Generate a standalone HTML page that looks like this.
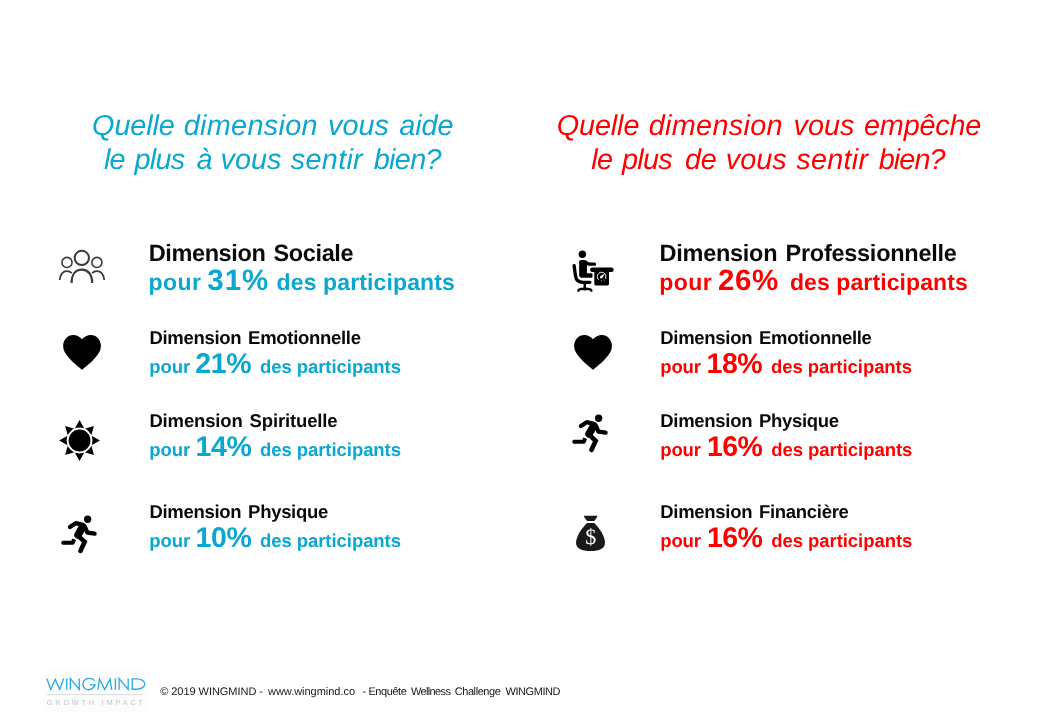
<!DOCTYPE html>
<html lang="fr">
<head>
<meta charset="utf-8">
<title>WINGMIND - Enquête Wellness Challenge</title>
<style>
html,body{margin:0;padding:0;background:#ffffff;}
body{width:1040px;height:720px;position:relative;overflow:hidden;font-family:"Liberation Sans",sans-serif;}
.t{position:absolute;white-space:pre;line-height:1;font-family:"Liberation Sans",sans-serif;font-weight:700;text-rendering:geometricPrecision;}
svg.ic{position:absolute;left:0;top:0;}
#txt{position:absolute;left:0;top:0;width:1040px;height:720px;will-change:transform;}
</style>
</head>
<body>
<svg class="ic" width="1040" height="720" viewBox="0 0 1040 720">
<rect x="44" y="670" width="104" height="42" fill="#fcfcfd"/>
<path d="M46.88 678.46L50.68 689.46L55.23 679.31L59.78 689.46L63.59 678.46M66.76 678.46L66.76 689.67M70.36 689.78L70.36 678.67L79.24 689.46L79.24 678.46M94.47 680.58C91.83 677.62 86.54 677.62 84.21 680.58C82.10 683.54 82.73 686.92 85.27 688.72C88.13 690.63 92.88 690.10 95.21 684.81L89.71 684.81M97.96 689.78L99.44 678.88L104.73 689.46L110.13 678.88L111.61 689.78M115.41 678.46L115.41 689.67M119.12 689.78L119.12 678.67L128.21 689.46L128.21 678.46M132.23 678.88L132.23 689.25L136.78 689.25C147.36 689.25 147.36 678.88 136.78 678.88Z" fill="none" stroke="#29abe2" stroke-width="1.32" stroke-linejoin="miter" stroke-miterlimit="8"/>
<path d="M47 694.6H143.2" stroke="#cdd3d6" stroke-width="0.8" fill="none"/>
<g fill="none" stroke="#3a3a3a" stroke-linecap="butt">
<circle cx="81.8" cy="257.9" r="7.15" stroke-width="2.0"/>
<circle cx="67.0" cy="262.4" r="5.05" stroke-width="1.6"/>
<circle cx="96.9" cy="262.4" r="5.05" stroke-width="1.6"/>
<path d="M71.6 283 C71.6 274 76 269.6 81.8 269.6 C87.6 269.6 92.2 274 92.2 283" stroke-width="2.2"/>
<path d="M59.7 280 C60.3 274.5 63 271.1 67 271.1 C69 271.1 70.6 271.9 71.8 273.1" stroke-width="1.8"/>
<path d="M104.2 280 C103.6 274.5 100.9 271.1 96.9 271.1 C94.9 271.1 93.3 271.9 92.1 273.1" stroke-width="1.8"/>
</g>
<path fill="#000" d="M81.98 369.76C79.36 367.62 72.56 362.47 68.67 357.61C65.46 353.72 63.13 350.52 63.13 346.04C63.13 339.92 67.70 335.06 73.24 335.06C76.73 335.06 79.84 336.72 82.03 339.14C84.22 336.72 87.33 335.06 90.83 335.06C96.37 335.06 100.93 339.92 100.93 346.04C100.93 350.52 98.60 353.72 95.39 357.61C91.51 362.47 84.70 367.62 82.08 369.76Z"/>
<path fill="#000" d="M592.98 369.76C590.36 367.62 583.56 362.47 579.67 357.61C576.46 353.72 574.13 350.52 574.13 346.04C574.13 339.92 578.70 335.06 584.24 335.06C587.73 335.06 590.84 336.72 593.03 339.14C595.22 336.72 598.33 335.06 601.83 335.06C607.37 335.06 611.93 339.92 611.93 346.04C611.93 350.52 609.60 353.72 606.39 357.61C602.51 362.47 595.70 367.62 593.08 369.76Z"/>
<path fill="#000" d="M79.55 420.10L84.25 428.50L74.85 428.50ZM93.97 426.08L91.36 435.34L84.71 428.69ZM99.95 440.50L91.55 445.20L91.55 435.80ZM93.97 454.92L84.71 452.31L91.36 445.66ZM79.55 460.90L74.85 452.50L84.25 452.50ZM65.13 454.92L67.74 445.66L74.39 452.31ZM59.15 440.50L67.55 435.80L67.55 445.20ZM65.13 426.08L74.39 428.69L67.74 435.34Z"/>
<circle cx="79.55" cy="440.5" r="12.9" fill="#fff"/>
<circle cx="79.55" cy="440.5" r="10.9" fill="#000"/>
<g fill="none" stroke="#000" stroke-linecap="round" stroke-linejoin="round">
<circle cx="87.62" cy="519.24" r="3.65" fill="#000" stroke="none"/>
<path d="M69.93 527.02L75.76 523.13L82.76 524.88" stroke-width="4.2"/>
<path d="M82.76 526.72L78.10 534.99" stroke-width="7.6"/>
<path d="M85.29 527.70L87.42 532.65L94.62 533.62" stroke-width="4.2"/>
<path d="M77.71 535.57L84.70 541.79L80.43 550.92" stroke-width="4.6" stroke-linejoin="miter"/>
<path d="M63.32 542.76L72.65 542.76L74.21 539.26" stroke-width="4.2" stroke-linecap="butt"/>
<circle cx="63.32" cy="542.76" r="2.1" fill="#000" stroke="none"/>
</g>
<g fill="none" stroke="#000" stroke-linecap="round" stroke-linejoin="round">
<circle cx="598.62" cy="418.24" r="3.65" fill="#000" stroke="none"/>
<path d="M580.93 426.02L586.76 422.13L593.76 423.88" stroke-width="4.2"/>
<path d="M593.76 425.72L589.10 433.99" stroke-width="7.6"/>
<path d="M596.29 426.70L598.42 431.65L605.62 432.62" stroke-width="4.2"/>
<path d="M588.71 434.57L595.70 440.79L591.43 449.92" stroke-width="4.6" stroke-linejoin="miter"/>
<path d="M574.32 441.76L583.65 441.76L585.21 438.26" stroke-width="4.2" stroke-linecap="butt"/>
<circle cx="574.32" cy="441.76" r="2.1" fill="#000" stroke="none"/>
</g>
<g fill="#000" stroke="#000" stroke-linecap="round" stroke-linejoin="round">
<circle cx="582.36" cy="254.30" r="3.7" stroke="none"/>
<path stroke="none" d="M581.29 259.93L584.21 259.93C585.76 259.93 586.93 261.10 586.93 262.65L586.93 273.25L591.30 273.25C592.37 273.25 592.57 273.93 592.57 275.48C592.57 277.04 592.37 277.81 591.30 277.81L581.88 277.81C580.13 277.81 579.15 276.84 579.15 275.09L579.15 262.07C579.15 260.71 579.93 259.93 581.29 259.93Z"/>
<path fill="none" stroke-width="3.3" d="M584.99 261.88L588.87 264.21L594.51 264.21"/>
<path fill="none" stroke-width="3.3" d="M574.10 265.57L575.46 275.68C576.04 280.05 579.15 282.28 583.04 282.28L589.84 282.28"/>
<path fill="none" stroke-width="2.6" stroke-linecap="butt" d="M584.79 282.96L584.79 290.45"/>
<path fill="none" stroke-width="2.4" d="M578.38 290.64C578.38 288.89 581.10 288.70 584.79 288.70C588.48 288.70 591.40 288.89 591.40 290.64"/>
<rect stroke="none" x="590.14" y="267.51" width="23.52" height="4.47" rx="2.2"/>
<path stroke="none" d="M594.31 270.82L608.99 270.82L608.99 284.03C608.99 285.00 608.31 285.49 607.53 285.49L595.68 285.49C594.90 285.49 594.31 285.00 594.31 284.03Z"/>
<circle cx="601.6" cy="276.6" r="4.35" fill="none" stroke="#fff" stroke-width="0.9" stroke-dasharray="17.5 9.83" transform="rotate(140 601.6 276.6)" opacity="0.95"/>
<path stroke="none" fill="#fff" d="M600.3 276.2L604.7 273.6L602.4 278.0C601.6 278.9 600.3 278.6 600.0 277.6C599.9 277.0 600.0 276.5 600.3 276.2Z"/>
<g fill="#fff" stroke="none" opacity="0.75"><circle cx="601.4" cy="280.7" r="0.55"/><circle cx="604.0" cy="280.0" r="0.6"/><circle cx="605.8" cy="278.2" r="0.6"/></g>
</g>
<path fill="#1a1a1a" d="M584.60 515.74L596.45 515.74C597.23 515.74 597.52 516.33 597.04 517.01L594.31 520.89L587.03 520.89L584.21 517.01C583.72 516.33 583.92 515.74 584.60 515.74Z"/>
<path fill="#1a1a1a" d="M587.03 522.93L594.31 522.93C600.53 529.15 605.00 536.93 605.00 542.76C605.00 548.59 599.56 551.12 590.62 551.12C581.68 551.12 576.04 548.59 576.04 542.76C576.04 536.93 580.71 529.15 587.03 522.93Z"/>
</svg>
<div id="txt">
<span class="t" style="left:92.10px;top:112px;font-size:28.8px;color:#0aa7d0;font-weight:400;font-style:italic;letter-spacing:-0.1px;">Quelle</span>
<span class="t" style="left:183.80px;top:112px;font-size:28.8px;color:#0aa7d0;font-weight:400;font-style:italic;letter-spacing:0.3px;">dimension</span>
<span class="t" style="left:327.90px;top:112px;font-size:28.8px;color:#0aa7d0;font-weight:400;font-style:italic;letter-spacing:0.1px;">vous</span>
<span class="t" style="left:399.20px;top:112px;font-size:28.8px;color:#0aa7d0;font-weight:400;font-style:italic;letter-spacing:-0.05px;">aide</span>
<span class="t" style="left:104.00px;top:146px;font-size:28.8px;color:#0aa7d0;font-weight:400;font-style:italic;letter-spacing:-0.8px;">le</span>
<span class="t" style="left:134.50px;top:146px;font-size:28.8px;color:#0aa7d0;font-weight:400;font-style:italic;letter-spacing:-0.7px;">plus</span>
<span class="t" style="left:196.40px;top:146px;font-size:28.8px;color:#0aa7d0;font-weight:400;font-style:italic;">à</span>
<span class="t" style="left:220.60px;top:146px;font-size:28.8px;color:#0aa7d0;font-weight:400;font-style:italic;">vous</span>
<span class="t" style="left:290.80px;top:146px;font-size:28.8px;color:#0aa7d0;font-weight:400;font-style:italic;letter-spacing:0.3px;">sentir</span>
<span class="t" style="left:373.80px;top:146px;font-size:28.8px;color:#0aa7d0;font-weight:400;font-style:italic;letter-spacing:-0.7px;">bien?</span>
<span class="t" style="left:556.70px;top:112px;font-size:28.8px;color:#ff0000;font-weight:400;font-style:italic;letter-spacing:-0.1px;">Quelle</span>
<span class="t" style="left:648.70px;top:112px;font-size:28.8px;color:#ff0000;font-weight:400;font-style:italic;letter-spacing:0.33px;">dimension</span>
<span class="t" style="left:793.40px;top:112px;font-size:28.8px;color:#ff0000;font-weight:400;font-style:italic;letter-spacing:0.1px;">vous</span>
<span class="t" style="left:864.00px;top:112px;font-size:28.8px;color:#ff0000;font-weight:400;font-style:italic;letter-spacing:-0.18px;">empêche</span>
<span class="t" style="left:591.30px;top:146px;font-size:28.8px;color:#ff0000;font-weight:400;font-style:italic;letter-spacing:-0.8px;">le</span>
<span class="t" style="left:622.00px;top:146px;font-size:28.8px;color:#ff0000;font-weight:400;font-style:italic;letter-spacing:-0.7px;">plus</span>
<span class="t" style="left:685.00px;top:146px;font-size:28.8px;color:#ff0000;font-weight:400;font-style:italic;letter-spacing:-0.3px;">de</span>
<span class="t" style="left:725.80px;top:146px;font-size:28.8px;color:#ff0000;font-weight:400;font-style:italic;letter-spacing:0.03px;">vous</span>
<span class="t" style="left:796.30px;top:146px;font-size:28.8px;color:#ff0000;font-weight:400;font-style:italic;letter-spacing:0.26px;">sentir</span>
<span class="t" style="left:878.80px;top:146px;font-size:28.8px;color:#ff0000;font-weight:400;font-style:italic;letter-spacing:-0.95px;">bien?</span>
<span class="t" style="left:148.70px;top:242px;font-size:23.5px;color:#0a0a0a;letter-spacing:-0.38px;word-spacing:2px;">Dimension Sociale</span>
<span class="t" style="left:148.50px;top:271px;font-size:23px;color:#0aa7d0;letter-spacing:0.45px;">pour</span>
<span class="t" style="left:207.30px;top:266px;font-size:29.5px;color:#0aa7d0;letter-spacing:1.0px;">31%</span>
<span class="t" style="left:276.60px;top:271px;font-size:23px;color:#0aa7d0;letter-spacing:0.12px;">des participants</span>
<span class="t" style="left:149.40px;top:329px;font-size:18.5px;color:#0a0a0a;letter-spacing:-0.3px;word-spacing:2px;">Dimension Emotionnelle</span>
<span class="t" style="left:149.30px;top:358px;font-size:18.5px;color:#0aa7d0;letter-spacing:-0.1px;">pour</span>
<span class="t" style="left:195.20px;top:350px;font-size:28.5px;color:#0aa7d0;letter-spacing:-0.3px;">21%</span>
<span class="t" style="left:259.90px;top:358px;font-size:18.5px;color:#0aa7d0;letter-spacing:-0.05px;">des participants</span>
<span class="t" style="left:149.40px;top:412px;font-size:18.5px;color:#0a0a0a;letter-spacing:-0.15px;word-spacing:2px;">Dimension Spirituelle</span>
<span class="t" style="left:149.30px;top:441px;font-size:18.5px;color:#0aa7d0;letter-spacing:-0.1px;">pour</span>
<span class="t" style="left:195.40px;top:433px;font-size:28.5px;color:#0aa7d0;letter-spacing:-0.3px;">14%</span>
<span class="t" style="left:259.90px;top:441px;font-size:18.5px;color:#0aa7d0;letter-spacing:-0.05px;">des participants</span>
<span class="t" style="left:149.40px;top:503px;font-size:18.5px;color:#0a0a0a;letter-spacing:-0.3px;word-spacing:2px;">Dimension Physique</span>
<span class="t" style="left:149.30px;top:532px;font-size:18.5px;color:#0aa7d0;letter-spacing:-0.1px;">pour</span>
<span class="t" style="left:195.40px;top:524px;font-size:28.5px;color:#0aa7d0;letter-spacing:-0.3px;">10%</span>
<span class="t" style="left:259.90px;top:532px;font-size:18.5px;color:#0aa7d0;letter-spacing:-0.05px;">des participants</span>
<span class="t" style="left:659.60px;top:242px;font-size:23.5px;color:#0a0a0a;letter-spacing:-0.27px;word-spacing:2px;">Dimension Professionnelle</span>
<span class="t" style="left:659.30px;top:271px;font-size:23px;color:#ff0000;letter-spacing:0.45px;">pour</span>
<span class="t" style="left:718.00px;top:266px;font-size:29.5px;color:#ff0000;letter-spacing:0.6px;">26%</span>
<span class="t" style="left:789.90px;top:271px;font-size:23px;color:#ff0000;letter-spacing:0.1px;">des participants</span>
<span class="t" style="left:660.30px;top:329px;font-size:18.5px;color:#0a0a0a;letter-spacing:-0.3px;word-spacing:2px;">Dimension Emotionnelle</span>
<span class="t" style="left:660.20px;top:358px;font-size:18.5px;color:#ff0000;letter-spacing:-0.1px;">pour</span>
<span class="t" style="left:706.60px;top:350px;font-size:28.5px;color:#ff0000;letter-spacing:-0.5px;">18%</span>
<span class="t" style="left:770.90px;top:358px;font-size:18.5px;color:#ff0000;letter-spacing:-0.05px;">des participants</span>
<span class="t" style="left:660.30px;top:412px;font-size:18.5px;color:#0a0a0a;letter-spacing:-0.3px;word-spacing:2px;">Dimension Physique</span>
<span class="t" style="left:660.20px;top:441px;font-size:18.5px;color:#ff0000;letter-spacing:-0.1px;">pour</span>
<span class="t" style="left:706.90px;top:433px;font-size:28.5px;color:#ff0000;letter-spacing:-0.5px;">16%</span>
<span class="t" style="left:771.20px;top:441px;font-size:18.5px;color:#ff0000;letter-spacing:-0.05px;">des participants</span>
<span class="t" style="left:660.30px;top:503px;font-size:18.5px;color:#0a0a0a;letter-spacing:-0.3px;word-spacing:2px;">Dimension Financière</span>
<span class="t" style="left:660.20px;top:532px;font-size:18.5px;color:#ff0000;letter-spacing:-0.1px;">pour</span>
<span class="t" style="left:706.90px;top:524px;font-size:28.5px;color:#ff0000;letter-spacing:-0.5px;">16%</span>
<span class="t" style="left:771.20px;top:532px;font-size:18.5px;color:#ff0000;letter-spacing:-0.05px;">des participants</span>
<span class="t" style="left:160.20px;top:687px;font-size:11px;color:#151515;font-weight:400;letter-spacing:-0.04px;">© 2019 WINGMIND -</span>
<span class="t" style="left:268.00px;top:687px;font-size:11px;color:#151515;font-weight:400;letter-spacing:-0.03px;">www.wingmind.co</span>
<span class="t" style="left:362.50px;top:687px;font-size:11px;color:#151515;font-weight:400;letter-spacing:-0.42px;">- Enquête</span>
<span class="t" style="left:410.90px;top:687px;font-size:11px;color:#151515;font-weight:400;letter-spacing:-0.62px;">Wellness</span>
<span class="t" style="left:454.70px;top:687px;font-size:11px;color:#151515;font-weight:400;letter-spacing:-0.42px;">Challenge</span>
<span class="t" style="left:505.50px;top:687px;font-size:11px;color:#151515;font-weight:400;letter-spacing:-0.43px;">WINGMIND</span>
<span class="t" style="left:585.30px;top:526px;font-size:22px;color:#ffffff;font-weight:400;font-family:'Liberation Serif',serif;">$</span>
<span class="t" style="left:46.80px;top:699px;font-size:7.2px;color:#c2c2c2;font-weight:400;letter-spacing:2.9px;">GROWTH IMPACT</span>
</div>
</body>
</html>
